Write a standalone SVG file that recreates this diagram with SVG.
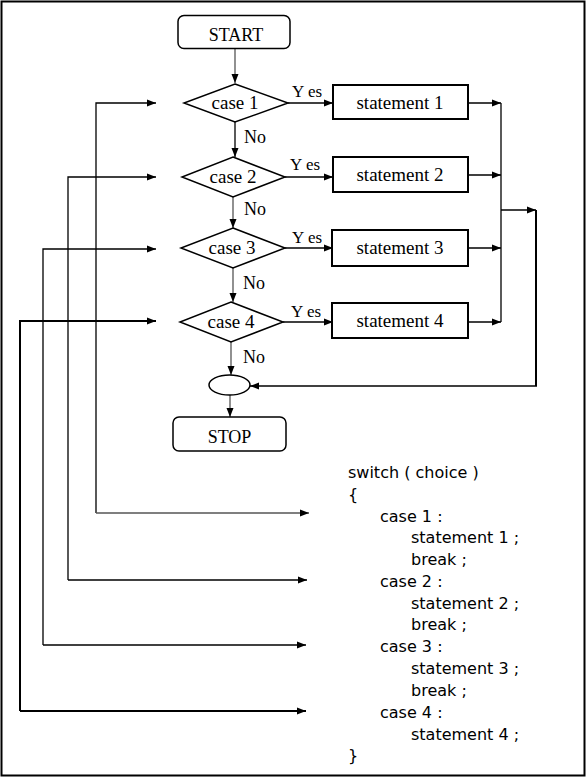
<svg xmlns="http://www.w3.org/2000/svg" width="587" height="779" viewBox="0 0 587 779">
<defs>
<marker id="ah" markerWidth="10" markerHeight="8" refX="9" refY="4" orient="auto" markerUnits="userSpaceOnUse">
<path d="M0,0.5 L9,4 L0,7.5 Z" fill="#000"/>
</marker>
<style>
.fr{fill:none;stroke:#000;stroke-width:2}
.sh{fill:#fff;stroke:#000;stroke-width:1.5}
.bx{fill:#fff;stroke:#000;stroke-width:2}
.ln{fill:none;stroke:#000;stroke-width:1.3}
.lnk{fill:none;stroke:#000;stroke-width:2}
.gr{fill:none;stroke:#555;stroke-width:1.3}
.ar{marker-end:url(#ah)}
.sf{font-family:"Liberation Serif","Times New Roman",serif;font-size:18px;fill:#000}
.sn{font-family:"Liberation Serif","Times New Roman",serif;font-size:19px;fill:#000}
.lb{font-family:"Liberation Serif","Times New Roman",serif;font-size:17px;fill:#000}
.cd{font-family:"DejaVu Sans",sans-serif;font-size:16px;fill:#000}
</style>
</defs>
<rect x="0" y="0" width="587" height="779" fill="#fff"/>
<rect class="fr" x="1.5" y="1.5" width="583" height="774"/>

<g id="connectors">
<path class="gr ar" d="M235,49 V83"/>
<path class="ln ar" d="M235,122 V157"/>
<path class="gr ar" d="M233,197 V228"/>
<path class="gr ar" d="M233,268 V302"/>
<path class="gr ar" d="M231,342 V375"/>
<path class="gr ar" d="M230,395 V417"/>
<path class="ln ar" d="M288,103 H333"/>
<path class="ln ar" d="M285,177 H333"/>
<path class="ln ar" d="M285,248 H333"/>
<path class="ln ar" d="M283,322 H333"/>
<path class="ln ar" d="M468,103 H501"/>
<path class="ln ar" d="M468,175 H501"/>
<path class="ln ar" d="M468,248 H501"/>
<path class="ln ar" d="M468,322 H501"/>
<path class="ln" d="M501,103 V322"/>
<path class="ln ar" d="M501,210 H536"/>
<path class="lnk" d="M536,210 V386"/>
<path class="ln ar" d="M537,386 H250"/>
<path class="ln ar" d="M96,513 V103 H156"/>
<path class="ln ar" d="M68,580 V177 H156"/>
<path class="ln ar" d="M43,645 V249 H156"/>
<path class="lnk ar" d="M20,711 V321 H156"/>
<path class="gr ar" d="M96,513 H309"/>
<path class="ln ar" d="M68,580 H307"/>
<path class="ln ar" d="M43,645 H306"/>
<path class="lnk ar" d="M20,711 H306"/>
</g>

<g id="start">
<rect class="sh" x="178" y="15.5" width="112" height="33" rx="6"/>
<text class="sf" x="236" y="41" text-anchor="middle">START</text>
</g>
<g id="case1">
<polygon class="sh" points="235,84 288,103 235,122 184,103"/>
<text class="sn" x="235" y="109" text-anchor="middle">case 1</text>
</g>
<g id="case2">
<polygon class="sh" points="233,157 285,177 233,197 182,177"/>
<text class="sn" x="233" y="183" text-anchor="middle">case 2</text>
</g>
<g id="case3">
<polygon class="sh" points="233,228 285,248 233,268 181,248"/>
<text class="sn" x="232" y="254" text-anchor="middle">case 3</text>
</g>
<g id="case4">
<polygon class="sh" points="231,302 283,322 231,342 180,322"/>
<text class="sn" x="231" y="328" text-anchor="middle">case 4</text>
</g>
<g id="stmt1">
<rect class="bx" x="333" y="85" width="135" height="34"/>
<text class="sn" x="400" y="109" text-anchor="middle">statement 1</text>
</g>
<g id="stmt2">
<rect class="bx" x="333" y="157" width="135" height="35"/>
<text class="sn" x="400" y="181" text-anchor="middle">statement 2</text>
</g>
<g id="stmt3">
<rect class="bx" x="332" y="230" width="136" height="36"/>
<text class="sn" x="400" y="254" text-anchor="middle">statement 3</text>
</g>
<g id="stmt4">
<rect class="bx" x="332" y="303" width="136" height="35"/>
<text class="sn" x="400" y="327" text-anchor="middle">statement 4</text>
</g>
<g id="labels">
<text class="lb" x="292" y="97">Y es</text>
<text class="lb" x="290" y="170">Y es</text>
<text class="lb" x="292" y="243">Y es</text>
<text class="lb" x="291" y="317">Y es</text>
<text class="sf" x="244" y="143">No</text>
<text class="sf" x="244" y="215">No</text>
<text class="sf" x="243" y="289">No</text>
<text class="sf" x="243" y="363">No</text>
</g>
<g id="join">
<ellipse class="sh" cx="229.5" cy="385" rx="20.5" ry="10"/>
</g>
<g id="stop">
<rect class="sh" x="173" y="417" width="113" height="34" rx="6"/>
<text class="sf" x="229.5" y="443" text-anchor="middle">STOP</text>
</g>
<g id="code">
<text class="cd" x="348" y="478">switch ( choice )</text>
<text class="cd" x="348" y="500">{</text>
<text class="cd" x="380" y="521.5">case 1 :</text>
<text class="cd" x="411" y="543">statement 1 ;</text>
<text class="cd" x="411" y="565">break ;</text>
<text class="cd" x="380" y="587">case 2 :</text>
<text class="cd" x="411" y="609">statement 2 ;</text>
<text class="cd" x="411" y="630">break ;</text>
<text class="cd" x="380" y="652">case 3 :</text>
<text class="cd" x="411" y="674">statement 3 ;</text>
<text class="cd" x="411" y="696">break ;</text>
<text class="cd" x="380" y="718">case 4 :</text>
<text class="cd" x="411" y="740">statement 4 ;</text>
<text class="cd" x="348" y="761">}</text>
</g>
</svg>
